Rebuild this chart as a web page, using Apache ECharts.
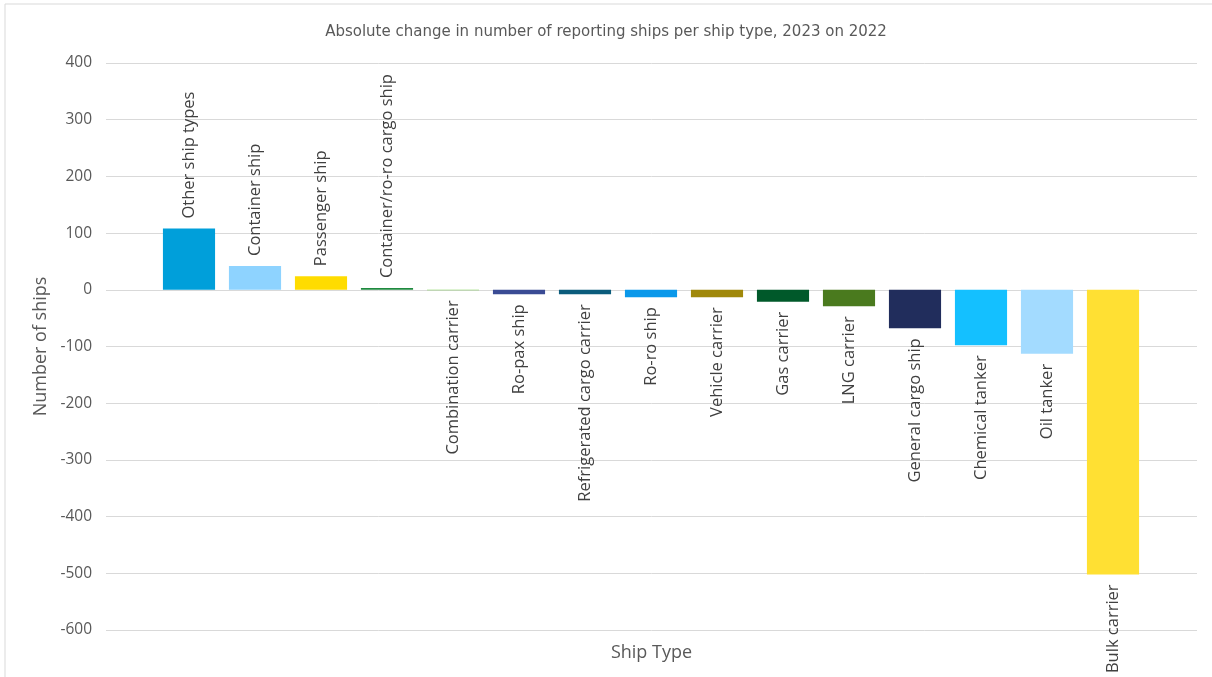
<!DOCTYPE html>
<html>
<head>
<meta charset="utf-8">
<script src="https://cdn.jsdelivr.net/npm/echarts@6/dist/echarts.min.js"></script>
<style>
html,body{margin:0;padding:0;background:#fff;}
#chart{width:1212px;height:677px;}
</style>
</head>
<body>
<div id="chart"></div>
<script>
var categories = ['Other ship types','Container ship','Passenger ship','Container/ro-ro cargo ship','Combination carrier','Ro-pax ship','Refrigerated cargo carrier','Ro-ro ship','Vehicle carrier','Gas carrier','LNG carrier','General cargo ship','Chemical tanker','Oil tanker','Bulk carrier'];
var values = [108, 42, 24, 3, -1, -8, -8, -13, -13, -21, -29, -68, -98, -113, -502];
var barColors = ['#009FDA','#8ED3FF','#FFDC00','#1F8A3F','#7ACF4C','#3A4B94','#0B5C7C','#0A98EA','#A0880A','#00592A','#4A7A1E','#212D5C','#14C0FF','#A3DBFF','#FFE033'];
var yTicks = {min: -600, max: 400, interval: 100};

var chart = echarts.init(document.getElementById('chart'), null, {renderer: 'canvas'});
var labelFont = '"Open Sans", "Noto Sans", sans-serif';

var data = values.map(function (v, i) {
  return {
    value: v,
    itemStyle: {color: barColors[i]},
    label: v >= 0
      ? {position: 'top', align: 'left', verticalAlign: 'middle'}
      : {position: 'bottom', align: 'right', verticalAlign: 'middle'}
  };
});

chart.setOption({
  animation: false,
  backgroundColor: '#ffffff',
  title: {
    text: 'Absolute change in number of reporting ships per ship type, 2023 on 2022',
    left: 'center',
    top: 20,
    textStyle: {fontFamily: '"DejaVu Sans", sans-serif', fontSize: 15, fontWeight: 'normal', color: '#595959'}
  },
  graphic: [{
    type: 'rect',
    shape: {x: 5, y: 4, width: 1300, height: 800},
    style: {fill: 'none', stroke: '#d9d9d9', lineWidth: 1},
    silent: true,
    z: -1
  }],
  grid: [
    {left: 106, right: 15, top: 63, bottom: 47},
    {left: 156, right: 66, top: 63, bottom: 47}
  ],
  xAxis: [
    {
      gridIndex: 0, type: 'value', min: 0, max: 1,
      axisLine: {show: false, onZero: false}, axisTick: {show: false}, axisLabel: {show: false}, splitLine: {show: false},
      name: 'Ship Type', nameLocation: 'middle', nameGap: 14,
      nameTextStyle: {fontFamily: labelFont, fontSize: 18, color: '#595959'}
    },
    {
      gridIndex: 1, type: 'category', data: categories,
      axisLine: {show: false, onZero: false}, axisTick: {show: false}, axisLabel: {show: false}, splitLine: {show: false}
    }
  ],
  yAxis: [
    {
      gridIndex: 0, type: 'value', min: yTicks.min, max: yTicks.max, interval: yTicks.interval,
      axisLine: {show: false}, axisTick: {show: false},
      axisLabel: {margin: 14, fontFamily: labelFont, fontSize: 15.5, color: '#595959'},
      splitLine: {lineStyle: {color: '#d9d9d9', width: 1}},
      name: 'Number of ships', nameLocation: 'middle', nameGap: 54,
      nameTextStyle: {fontFamily: labelFont, fontSize: 18, color: '#595959'}
    },
    {
      gridIndex: 1, type: 'value', min: yTicks.min, max: yTicks.max, interval: yTicks.interval,
      show: false
    }
  ],
  series: [{
    type: 'bar',
    xAxisIndex: 1,
    yAxisIndex: 1,
    data: data,
    barCategoryGap: '21%',
    label: {
      show: true,
      rotate: 90,
      distance: 10,
      formatter: function (p) { return p.name; },
      fontFamily: labelFont,
      fontSize: 16.5,
      color: '#404040'
    }
  }]
});
</script>
</body>
</html>
